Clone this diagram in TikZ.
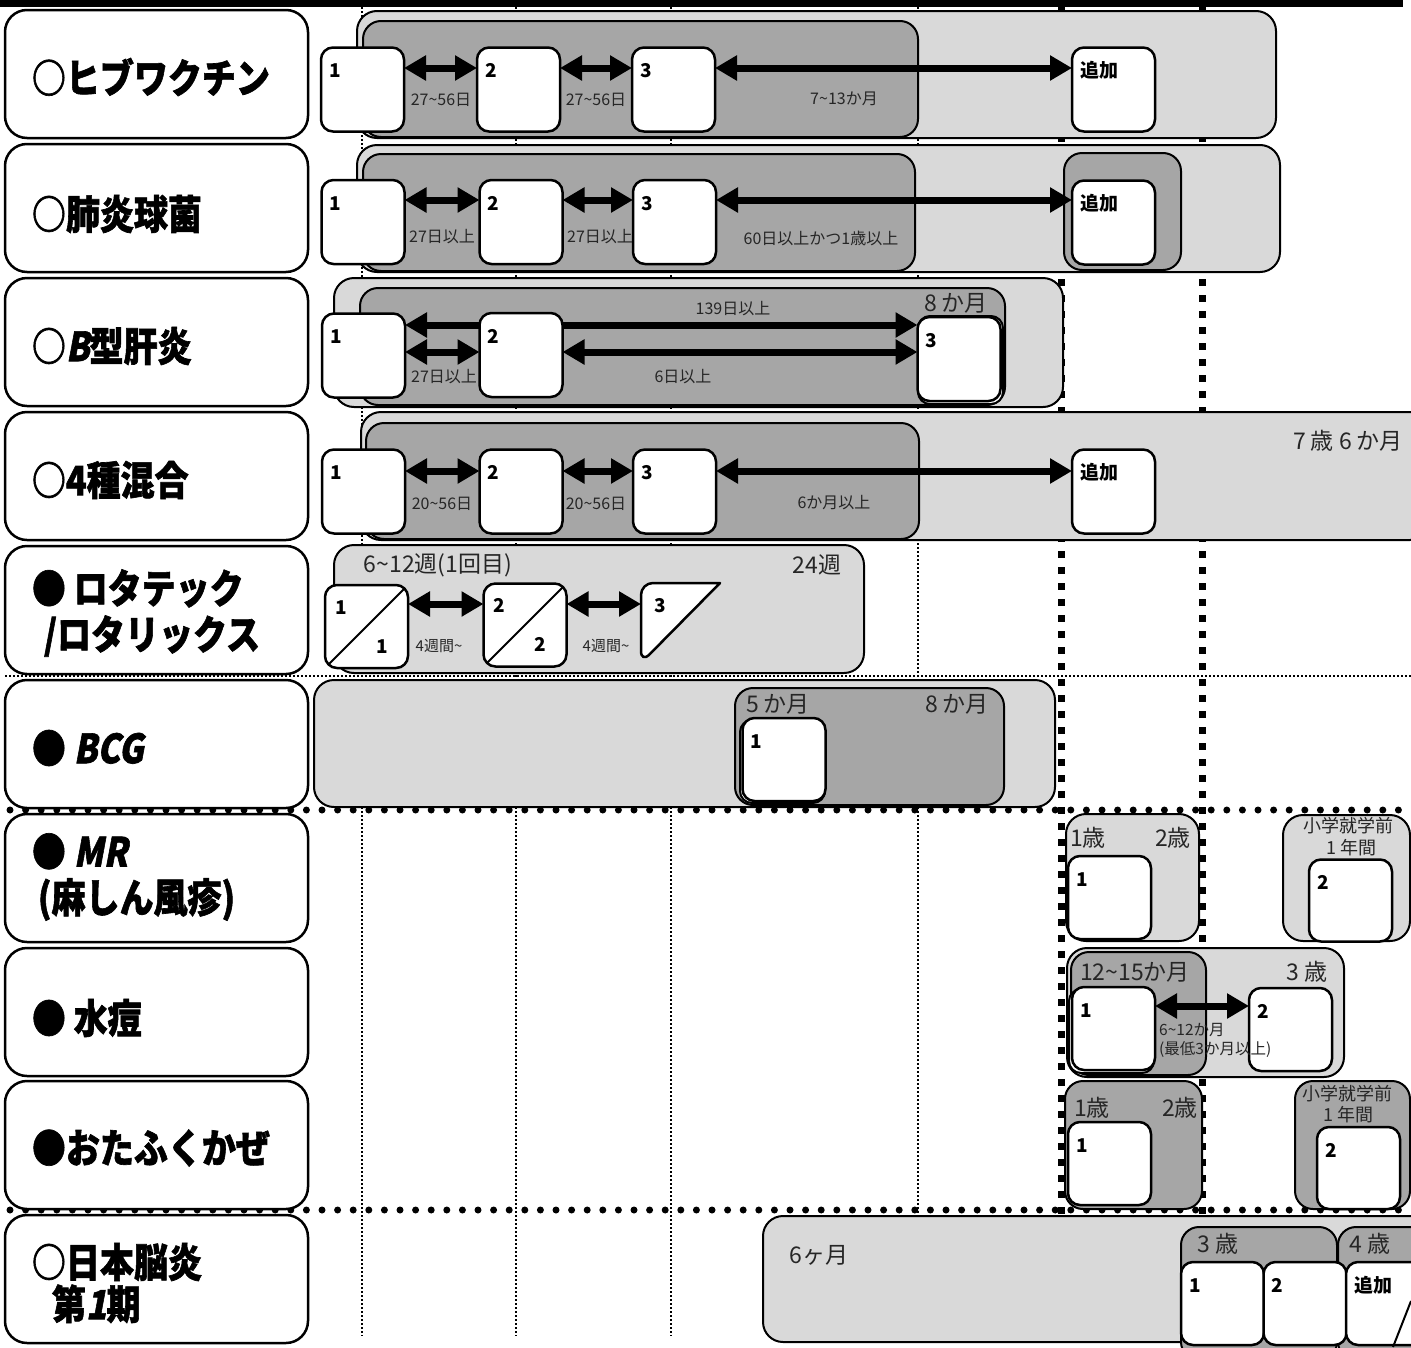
\documentclass[tikz,border=0pt]{standalone}
\usepackage{graphicx}
\usepackage{fontspec}
\setmainfont{Noto Sans CJK JP}
\newfontfamily\jpsl{Noto Sans CJK JP}[FakeSlant=0.22]
\newfontfamily\jpttl{Noto Sans CJK JP}[BoldFeatures={FakeBold=1.6}]
\newfontfamily\jpttlsl{Noto Sans CJK JP}[BoldFeatures={FakeBold=1.6,FakeSlant=0.22}]
\usetikzlibrary{arrows.meta}
\definecolor{lg}{HTML}{D9D9D9}
\definecolor{dg}{HTML}{A6A6A6}
\newcommand\tld{\char"7E\relax}
\newcommand\tallt[1]{\scalebox{1}[1.18]{#1}}
\tikzset{
 lab/.style={draw, line width=2.5pt, rounded corners=22pt, fill=white, minimum width=303pt, minimum height=128pt, inner sep=0pt},
 lbox/.style={draw, line width=2pt, rounded corners=20pt, fill=lg},
 dbox/.style={draw, line width=2pt, rounded corners=18pt, fill=dg},
 dose/.style={draw, line width=2.5pt, rounded corners=12pt, fill=white, minimum width=83pt, minimum height=84pt, inner sep=0pt, outer sep=0pt},
 shadowbox/.style={draw, line width=2pt, rounded corners=12pt, fill=white},
 num/.style={font=\fontsize{19}{19}\selectfont\bfseries, inner sep=0pt, anchor=base west},
 sm/.style={font=\fontsize{16}{16}\selectfont, inner sep=0pt, text=black!85},
 md/.style={font=\fontsize{23}{23}\selectfont, inner sep=0pt, text=black!85},
 ttl/.style={font=\jpttl\fontsize{34}{46}\selectfont\bfseries, inner sep=0pt, anchor=west, align=left},
 dblarrow/.style={line width=7pt, {Triangle[length=22pt,width=24pt]}-{Triangle[length=22pt,width=24pt]}},
 gridthin/.style={line width=1.5pt, dash pattern=on 2pt off 2pt},
 gridsq/.style={line width=7pt, dash pattern=on 7pt off 9pt},
 gridround/.style={line width=7pt, line cap=round, dash pattern=on 0pt off 15.6pt},
}
\begin{document}
\begin{tikzpicture}[x=1pt,y=-1pt]
\useasboundingbox (0,0) rectangle (1411,1347);
% top bar
\fill[black] (0,0) rectangle (1403,7);
% grid lines
\foreach \gx in {362,516,671,918} \draw[gridthin] (\gx,7) -- (\gx,1336);
\foreach \gx in {1061,1202} \draw[gridsq] (\gx,7) -- (\gx,1340);
\draw[gridthin] (5,676) -- (1411,676);
\draw[gridround] (10,810) -- (1411,810);
\draw[gridround] (10,1210) -- (1411,1210);

% label boxes
\node[lab] (L1) at (156.5,74) {};
\node[lab] (L2) at (156.5,208) {};
\node[lab] (L3) at (156.5,342) {};
\node[lab] (L4) at (156.5,476) {};
\node[lab] (L5) at (156.5,610) {};
\node[lab] (L6) at (156.5,744) {};
\node[lab] (L7) at (156.5,878) {};
\node[lab] (L8) at (156.5,1012) {};
\node[lab] (L9) at (156.5,1145) {};
\node[lab] (L10) at (156.5,1279) {};
\node[ttl] (T1) at ([xshift=28pt,yshift=-3pt]L1.west) {\tallt{○ヒブワクチン}};
\node[ttl] (T2) at ([xshift=28pt,yshift=-6pt]L2.west) {\tallt{○肺炎球菌}};
\node[ttl] (T3) at ([xshift=28pt,yshift=-4pt]L3.west) {\tallt{○{\jpttlsl B}型肝炎}};
\node[ttl] (T4) at ([xshift=28pt,yshift=-4pt]L4.west) {\tallt{○4種混合}};
\node[ttl] (T5) at ([xshift=28pt,yshift=-3pt]L5.west) {\tallt{● ロタテック}\\\hspace{12pt}\tallt{/ロタリックス}};
\node[ttl] (T6) at ([xshift=28pt,yshift=-4pt]L6.west) {\tallt{● {\jpttlsl BCG}}};
\node[ttl] (T7) at ([xshift=28pt,yshift=1pt]L7.west) {\tallt{● {\jpttlsl MR}}\\\hspace{6pt}\tallt{(麻しん風疹)}};
\node[ttl] (T8) at ([xshift=28pt,yshift=-6pt]L8.west) {\tallt{● 水痘}};
\node[ttl] (T9) at ([xshift=28pt,yshift=-3pt]L9.west) {\tallt{●おたふくかぜ}};
\node[ttl, font=\jpttl\fontsize{34}{42}\selectfont\bfseries] (T10) at ([xshift=28pt,yshift=-4pt]L10.west) {\tallt{○日本脳炎}\\\hspace{20pt}\tallt{第{\jpttlsl 1}期}};

% ===== Row 1 Hib
\draw[lbox] (357,11) rectangle (1276,138);
\draw[dbox] (363,21) rectangle (918,137);
\node[dose] (h1) at (362.5,89.5) {};
\node[dose] (h2) at (518.5,89.5) {};
\node[dose] (h3) at (673.5,89.5) {};
\node[dose] (h4) at (1113.5,89.5) {};
\node[num] (h1n) at ([xshift=8pt,yshift=-30pt]h1.north west) {1};
\node[num] (h2n) at ([xshift=8pt,yshift=-30pt]h2.north west) {2};
\node[num] (h3n) at ([xshift=8pt,yshift=-30pt]h3.north west) {3};
\node[num] (h4n) at ([xshift=8pt,yshift=-30pt]h4.north west) {追加};
\draw[dblarrow] ([yshift=21.5pt]h1.east) -- ([yshift=21.5pt]h2.west);
\draw[dblarrow] ([yshift=21.5pt]h2.east) -- ([yshift=21.5pt]h3.west);
\draw[dblarrow] ([yshift=21.5pt]h3.east) -- ([yshift=21.5pt]h4.west);
\node[sm] (h12) at (441,100) {27\tld56日};
\node[sm] (h23) at (596,100) {27\tld56日};
\node[sm] (h34) at (844,99) {7\tld13か月};

% ===== Row 2 pneumococcal
\draw[lbox] (357,145) rectangle (1280,272);
\draw[dbox] (363,154) rectangle (915,271);
\draw[dbox] (1064,153) rectangle (1181,270);
\node[dose] (p1) at (363,222) {};
\node[dose] (p2) at (521,222) {};
\node[dose] (p3) at (674.5,222) {};
\node[dose] (p4) at (1113.5,222.5) {};
\node[num] (p1n) at ([xshift=8pt,yshift=-30pt]p1.north west) {1};
\node[num] (p2n) at ([xshift=8pt,yshift=-30pt]p2.north west) {2};
\node[num] (p3n) at ([xshift=8pt,yshift=-30pt]p3.north west) {3};
\node[num] (p4n) at ([xshift=8pt,yshift=-30pt]p4.north west) {追加};
\draw[dblarrow] ([yshift=22pt]p1.east) -- ([yshift=22pt]p2.west);
\draw[dblarrow] ([yshift=22pt]p2.east) -- ([yshift=22pt]p3.west);
\draw[dblarrow] ([yshift=22pt]p3.east) -- ([yshift=22.5pt]p4.west);
\node[sm] (p12) at (442,237) {27日以上};
\node[sm] (p23) at (600,237) {27日以上};
\node[sm] (p34) at (821,238) {60日以上かつ1歳以上};

% ===== Row 3 hepatitis B
\draw[lbox] (334,278) rectangle (1063,407);
\draw[dbox] (360,288) rectangle (1005,405);
\node[md] (b8) at (956,303) {8 か月};
\node[dose] (b1) at (363.5,355.5) {};
\draw[shadowbox] (918,316) rectangle (1003,404);
\node[dose] (b3) at (959,359) {};
\draw[dblarrow] ([yshift=30.5pt]b1.east) -- ([yshift=34pt]b3.west);
\node[dose] (b2) at (521,355) {};
\node[num] (b1n) at ([xshift=8pt,yshift=-30pt]b1.north west) {1};
\node[num] (b2n) at ([xshift=8pt,yshift=-30pt]b2.north west) {2};
\node[num] (b3n) at ([xshift=8pt,yshift=-30pt]b3.north west) {3};
\draw[dblarrow] ([yshift=3.5pt]b1.east) -- ([yshift=3pt]b2.west);
\draw[dblarrow] ([yshift=3pt]b2.east) -- ([yshift=7pt]b3.west);
\node[sm] (b13) at (733,309) {139日以上};
\node[sm] (b12) at (444,377) {27日以上};
\node[sm] (b23) at (683,377) {6日以上};

% ===== Row 4 DPT-IPV
\draw[lbox] (361,412) rectangle (1430,540);
\draw[dbox] (366,423) rectangle (919,539);
\node[md] (f76) at (1348,441) {7 歳 6 か月};
\node[dose] (f1) at (363.5,491.5) {};
\node[dose] (f2) at (521,491.5) {};
\node[dose] (f3) at (674.5,491.5) {};
\node[dose] (f4) at (1113.5,491.5) {};
\node[num] (f1n) at ([xshift=8pt,yshift=-30pt]f1.north west) {1};
\node[num] (f2n) at ([xshift=8pt,yshift=-30pt]f2.north west) {2};
\node[num] (f3n) at ([xshift=8pt,yshift=-30pt]f3.north west) {3};
\node[num] (f4n) at ([xshift=8pt,yshift=-30pt]f4.north west) {追加};
\draw[dblarrow] ([yshift=20.5pt]f1.east) -- ([yshift=20.5pt]f2.west);
\draw[dblarrow] ([yshift=20.5pt]f2.east) -- ([yshift=20.5pt]f3.west);
\draw[dblarrow] ([yshift=20.5pt]f3.east) -- ([yshift=20.5pt]f4.west);
\node[sm] (f12) at (442,504) {20\tld56日};
\node[sm] (f23) at (596,504) {20\tld56日};
\node[sm] (f34) at (834,503) {6か月以上};

% ===== Row 5 rotavirus
\draw[lbox] (334,545) rectangle (864,673);
\node[md] (rw1) at (438,565) {6\tld12週(1回目)};
\node[md] (rw2) at (817,565) {24週};
\node[dose, minimum height=83pt] (r1) at (366.5,626.5) {};
\node[dose, minimum height=83pt] (r2) at (525,625) {};
\draw[line width=2pt] ([xshift=3.5pt,yshift=3.5pt]r1.south west) -- ([xshift=-3.5pt,yshift=-3.5pt]r1.north east);
\draw[line width=2pt] ([xshift=3.5pt,yshift=3.5pt]r2.south west) -- ([xshift=-3.5pt,yshift=-3.5pt]r2.north east);
\filldraw[fill=white, line width=2.5pt, line join=round] (720,583) [rounded corners=12pt] -- (641,583) -- (641,663) [sharp corners] -- cycle;
\coordinate (r3w) at (641,604);
\node[num] (r1n) at ([xshift=10pt,yshift=-29pt]r1.north west) {1};
\node[num, anchor=base east] (r1m) at ([xshift=-20pt,yshift=15pt]r1.south east) {1};
\node[num] (r2n) at ([xshift=10pt,yshift=-29pt]r2.north west) {2};
\node[num, anchor=base east] (r2m) at ([xshift=-20pt,yshift=15pt]r2.south east) {2};
\node[num] (r3n) at (654,612) {3};
\draw[dblarrow] ([yshift=22.5pt]r1.east) -- ([yshift=21pt]r2.west);
\draw[dblarrow] ([yshift=21pt]r2.east) -- (r3w);
\node[sm, font=\fontsize{15}{15}\selectfont] (r12) at (439,646) {4週間\tld};
\node[sm, font=\fontsize{15}{15}\selectfont] (r23) at (606,646) {4週間\tld};

% ===== Row 6 BCG
\draw[lbox] (314,680) rectangle (1055,807);
\draw[dbox] (735,688) rectangle (1004,805);
\node[md] (g5) at (778,704) {5 か月};
\node[md] (g8) at (957,704) {8 か月};
\draw[shadowbox] (740,720) rectangle (825,803);
\node[dose, minimum height=83pt] (g1) at (784,759.5) {};
\node[num] (g1n) at ([xshift=8pt,yshift=-30pt]g1.north west) {1};

% ===== Row 7 MR
\draw[lbox] (1066,814) rectangle (1199,941);
\node[md] (m1a) at (1088,838) {1歳};
\node[md] (m2a) at (1173,838) {2歳};
\node[dose, minimum height=83pt] (m1) at (1109.5,897.5) {};
\node[num] (m1n) at ([xshift=8pt,yshift=-30pt]m1.north west) {1};
\draw[lbox] (1283,815) rectangle (1410,941);
\node[md, font=\fontsize{18}{18}\selectfont] (m2s) at (1348,826) {小学就学前};
\node[md, font=\fontsize{18}{18}\selectfont] (m2y) at (1351,848) {1 年間};
\node[dose, minimum height=82pt] (m2) at (1350.5,900.5) {};
\node[num] (m2n) at ([xshift=8pt,yshift=-30pt]m2.north west) {2};

% ===== Row 8 varicella
\draw[lbox] (1067,948) rectangle (1344,1077);
\draw[dbox] (1071,952) rectangle (1206,1075);
\node[md] (v15) at (1135,972) {12\tld15か月};
\node[md] (v3) at (1307,972) {3 歳};
\draw[shadowbox] (1069,989) rectangle (1154,1073);
\node[dose, minimum height=83pt] (v1) at (1113.5,1028.5) {};
\node[dose, minimum height=83pt] (v2) at (1290.5,1029.5) {};
\node[num] (v1n) at ([xshift=8pt,yshift=-30pt]v1.north west) {1};
\node[num] (v2n) at ([xshift=8pt,yshift=-30pt]v2.north west) {2};
\draw[dblarrow] ([yshift=22.5pt]v1.east) -- ([yshift=23.5pt]v2.west);
\node[sm, anchor=west, align=left, font=\fontsize{15.5}{19}\selectfont] (v12) at (1159,1040) {6\tld12か月\\(最低3か月以上)};

% ===== Row 9 mumps
\draw[dbox] (1065,1081) rectangle (1202,1209);
\node[md] (o1a) at (1092,1108) {1歳};
\node[md] (o2a) at (1180,1108) {2歳};
\node[dose, minimum height=83pt] (o1) at (1109.5,1163.5) {};
\node[num] (o1n) at ([xshift=8pt,yshift=-30pt]o1.north west) {1};
\draw[dbox] (1295,1081) rectangle (1410,1209);
\node[md, font=\fontsize{18}{18}\selectfont] (o2s) at (1347,1094) {小学就学前};
\node[md, font=\fontsize{18}{18}\selectfont] (o2y) at (1348,1115) {1 年間};
\node[dose, minimum height=82pt] (o2) at (1358.5,1168) {};
\node[num] (o2n) at ([xshift=8pt,yshift=-30pt]o2.north west) {2};

% ===== Row 10 Japanese encephalitis
\draw[lbox] (763,1216) rectangle (1430,1342);
\node[md] (j6) at (819,1255) {6ヶ月};
\draw[dbox] (1181,1227) rectangle (1337,1360);
\draw[dbox] (1338,1227) rectangle (1430,1360);
\node[md] (j3a) at (1218,1244) {3 歳};
\node[md] (j4a) at (1370,1244) {4 歳};
\node[dose, minimum height=83pt] (j1) at (1222.5,1303.5) {};
\node[dose, minimum height=83pt] (j2) at (1305,1303.5) {};
\node[dose, minimum height=83pt] (j3) at (1387.5,1303.5) {};
\node[num] (j1n) at ([xshift=8pt,yshift=-30pt]j1.north west) {1};
\node[num] (j2n) at ([xshift=8pt,yshift=-30pt]j2.north west) {2};
\node[num] (j3n) at ([xshift=8pt,yshift=-30pt]j3.north west) {追加};
\draw[line width=2pt] (1411,1301) -- (1393,1347);
\end{tikzpicture}
\end{document}
